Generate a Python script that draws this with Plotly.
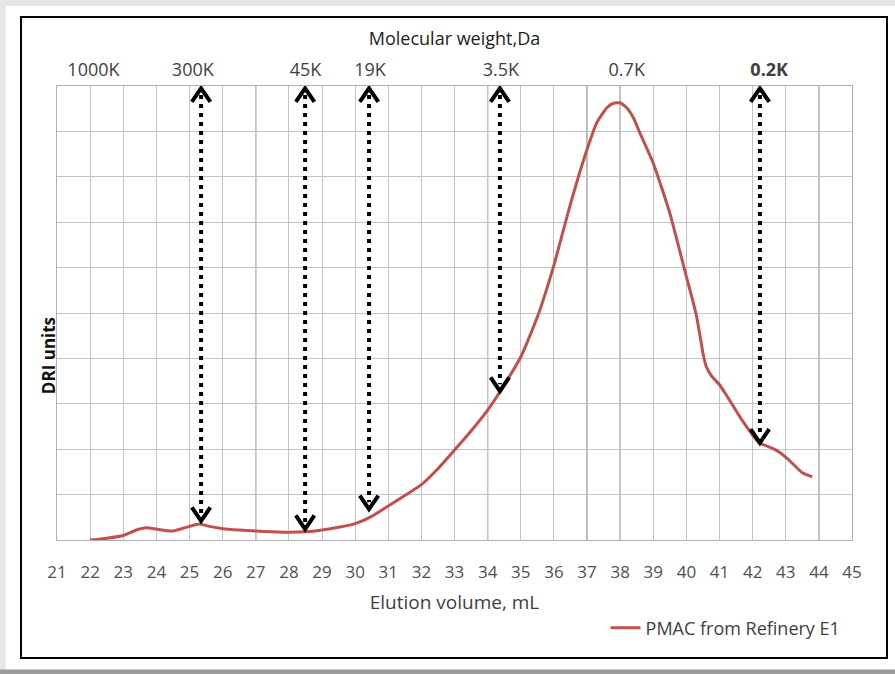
import plotly.graph_objects as go

# ---- data ----
elution_ml = [22.0, 22.5, 23.0, 23.4, 23.7, 24.0, 24.5, 25.0, 25.3, 25.6, 26.0, 26.5,
              27.0, 27.5, 28.0, 28.5, 29.0, 29.5, 30.0, 30.5, 31.0, 31.5, 32.0, 32.5,
              33.0, 33.5, 34.0, 34.4, 35.0, 35.5, 36.0, 36.5, 37.0, 37.3, 37.6, 37.8,
              38.0, 38.2, 38.4, 38.6, 39.0, 39.5, 40.0, 40.2, 40.3, 40.4, 40.5, 40.6,
              40.75, 41.0, 41.2, 41.7, 42.2, 42.6, 42.8, 43.1, 43.5, 43.8]
dri_units = [0.0, 0.04, 0.1, 0.22, 0.27, 0.24, 0.2, 0.3, 0.35, 0.3, 0.25, 0.22,
             0.2, 0.18, 0.17, 0.18, 0.22, 0.28, 0.36, 0.52, 0.75, 0.98, 1.22, 1.57,
             1.98, 2.4, 2.86, 3.3, 4.03, 4.91, 6.05, 7.4, 8.6, 9.2, 9.52, 9.62,
             9.63, 9.52, 9.3, 8.96, 8.3, 7.2, 5.8, 5.25, 4.95, 4.55, 4.12, 3.82,
             3.62, 3.42, 3.2, 2.62, 2.14, 2.02, 1.94, 1.76, 1.48, 1.39]
series_name = "PMAC from Refinery E1"

x_ticks = list(range(21, 46))
mw_label_pos = [22.1, 25.1, 28.5, 30.45, 34.4, 38.2, 42.5]
mw_labels = ["1000K", "300K", "45K", "19K", "3.5K", "0.7K", "<b>0.2K</b>"]

arrow_x = [25.35, 28.49, 30.42, 34.37, 42.22]
arrow_top = [9.95, 9.95, 9.95, 9.95, 9.95]
arrow_bottom = [0.42, 0.24, 0.68, 3.28, 2.14]

dark_grid_x = [27, 34, 37, 38, 44]

# ---- figure ----
RED = "#c0504d"
FONT = "'Open Sans', sans-serif"
fig = go.Figure()

fig.add_trace(go.Scatter(x=elution_ml, y=dri_units, mode="lines", name=series_name,
                         line=dict(color=RED, width=3, shape="spline", smoothing=0.5),
                         xaxis="x", yaxis="y"))

# arrows (dotted shafts + chevron heads), on top axis
hx, hy = 0.28, 0.3
for xa, yt, yb in zip(arrow_x, arrow_top, arrow_bottom):
    fig.add_trace(go.Scatter(x=[xa, xa], y=[yt - 0.15, yb + 0.15], mode="lines",
                             line=dict(color="black", width=4, dash="4px,5px"),
                             showlegend=False, hoverinfo="skip", xaxis="x2", yaxis="y"))
    fig.add_trace(go.Scatter(x=[xa - hx, xa, xa + hx, None, xa - hx, xa, xa + hx],
                             y=[yt - hy, yt, yt - hy, None, yb + hy, yb, yb + hy],
                             mode="lines", line=dict(color="black", width=4),
                             showlegend=False, hoverinfo="skip", xaxis="x2", yaxis="y"))

# darker grid lines
for gx in dark_grid_x:
    fig.add_shape(type="line", xref="x", yref="paper", x0=gx, x1=gx, y0=0, y1=1,
                  line=dict(color="#909090", width=1.3), layer="between")

# page bands and outer frame
fig.add_shape(type="rect", xref="paper", yref="paper", x0=-0.08, x1=1.06,
              y0=1.176, y1=1.2, line=dict(width=0), fillcolor="#e6e6e6", layer="below")
fig.add_shape(type="rect", xref="paper", yref="paper", x0=-0.08, x1=-0.0645,
              y0=-0.3, y1=1.2, line=dict(width=0), fillcolor="#e6e6e6", layer="below")
fig.add_shape(type="rect", xref="paper", yref="paper", x0=-0.08, x1=1.06,
              y0=-0.3, y1=-0.285, line=dict(width=0), fillcolor="#9a9a9a", layer="below")
fig.add_shape(type="rect", xref="paper", yref="paper", x0=-0.0453, x1=1.044,
              y0=-0.26, y1=1.152, line=dict(color="black", width=2), layer="below")

fig.update_layout(
    width=895, height=674,
    margin=dict(l=57, r=43, t=86, b=134),
    paper_bgcolor="white", plot_bgcolor="white",
    font=dict(family=FONT, size=17, color="#404040"),
    xaxis=dict(range=[21, 45], tickvals=x_ticks, ticktext=[str(v) for v in x_ticks],
               showgrid=True, gridcolor="#c4c4c4", gridwidth=1,
               showline=True, mirror=True, linecolor="#b0b0b0", linewidth=1,
               zeroline=False, ticks="outside", ticklen=17, tickcolor="rgba(0,0,0,0)",
               tickfont=dict(size=17, color="#505050"),
               title=dict(text="Elution volume, mL", font=dict(size=19, color="#404040"),
                          standoff=13)),
    xaxis2=dict(range=[21, 45], overlaying="x", side="top", anchor="y",
                tickvals=mw_label_pos, ticktext=mw_labels, showgrid=False,
                zeroline=False, showline=False, ticks="outside", ticklen=2,
                tickcolor="rgba(0,0,0,0)", tickfont=dict(size=18, color="#404040"),
                title=dict(text="Molecular weight,Da", font=dict(size=18, color="#222222"),
                           standoff=6)),
    yaxis=dict(range=[0, 10], dtick=1, showticklabels=False, showgrid=True,
               gridcolor="#c4c4c4", gridwidth=1, zeroline=False,
               showline=True, mirror=True, linecolor="#b0b0b0", linewidth=1),
    showlegend=True,
    legend=dict(x=0.69, y=-0.194, xanchor="left", yanchor="middle",
                bgcolor="rgba(0,0,0,0)", font=dict(size=18, color="#404040")),
    annotations=[dict(text="<b>DRI units</b>", textangle=-90, xref="paper", yref="paper",
                      x=-0.0113, y=0.405, xanchor="center", yanchor="middle",
                      showarrow=False, font=dict(size=17, color="#111111"))],
)

fig.write_html("out.html")
